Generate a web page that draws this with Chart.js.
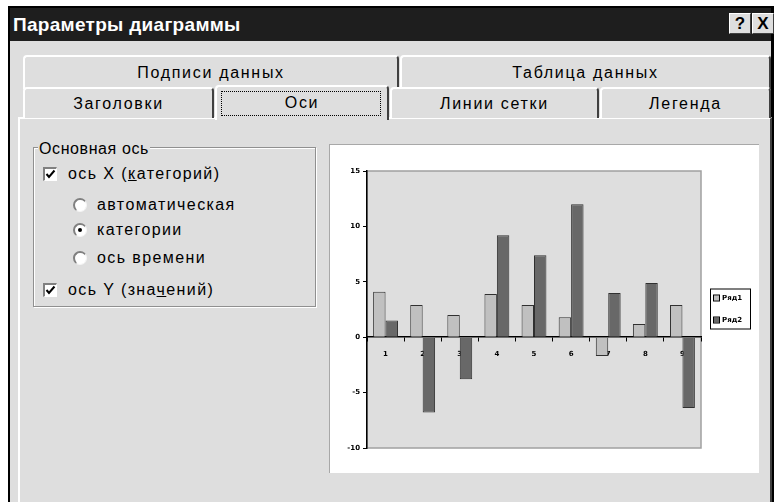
<!DOCTYPE html>
<html><head><meta charset="utf-8">
<script src="https://cdn.jsdelivr.net/npm/chart.js@4/dist/chart.umd.min.js"></script>
<style>
html,body{margin:0;padding:0;background:#fff;width:779px;height:502px;overflow:hidden;font-family:"Liberation Sans",Arial,sans-serif;}
.abs{position:absolute;box-sizing:border-box;}
#dlg{left:8px;top:6px;width:766px;height:500px;background:#dedede;border-left:2px solid #000;border-right:3px solid #000;border-top:2px solid #000;}
#title{left:10px;top:8px;width:761px;height:33px;background:#1e1e1e;color:#fff;font-weight:bold;font-size:19px;line-height:33px;padding-left:3px;letter-spacing:0.3px;}
.tbtn{top:13px;width:22px;height:21px;background:#dedede;border-top:1px solid #fff;border-left:1px solid #fff;border-right:1px solid #404040;border-bottom:1px solid #404040;color:#000;font-weight:bold;font-size:17px;line-height:19px;text-align:center;}
.tab{background:#dedede;border-top:2px solid #fff;border-left:2px solid #fff;border-right:2px solid #404040;border-radius:4px 4px 0 0;text-align:center;font-size:16px;color:#000;letter-spacing:1.7px;}
#panel{left:18px;top:117px;width:754px;height:400px;border-top:2px solid #fff;border-left:2px solid #fff;border-right:2px solid #404040;background:#dedede;}
.lbl{font-size:16px;color:#000;white-space:nowrap;line-height:18px;letter-spacing:1.4px;}
.cb{width:14px;height:14px;background:#fff;border-top:2px solid #808080;border-left:2px solid #808080;border-right:1px solid #fff;border-bottom:1px solid #fff;}
.rb{width:14px;height:14px;border-radius:50%;background:#fff;border-top:2px solid #808080;border-left:2px solid #808080;border-right:1px solid #f4f4f4;border-bottom:1px solid #f4f4f4;}
.rb.sel::after{content:"";position:absolute;left:3px;top:3px;width:4px;height:4px;border-radius:50%;background:#000;}
#chartbox{left:329px;top:144px;width:430px;height:329px;background:#fff;border-left:1px solid #a8a8a8;border-top:1px solid #a8a8a8;}
</style></head><body>
<div id="dlg" class="abs"></div>
<div id="title" class="abs">Параметры диаграммы</div>
<div class="abs tbtn" style="left:729px;">?</div>
<div class="abs tbtn" style="left:752px;">X</div>

<div class="abs tab" style="left:23px;top:55px;width:376px;height:34px;line-height:31px;">Подписи данных</div>
<div class="abs tab" style="left:400px;top:55px;width:371px;height:34px;line-height:31px;">Таблица данных</div>

<div id="panel" class="abs"></div>
<div class="abs tab" style="left:23px;top:87px;width:191px;height:31px;line-height:30px;">Заголовки</div>
<div class="abs tab" style="left:390px;top:87px;width:209px;height:31px;line-height:30px;">Линии сетки</div>
<div class="abs tab" style="left:600px;top:87px;width:171px;height:31px;line-height:30px;">Легенда</div>
<div class="abs tab" style="left:215px;top:85px;width:174px;height:35px;line-height:31px;border-bottom:none;z-index:2;">Оси
  <div class="abs" style="left:4px;top:4px;width:160px;height:25px;border:1px dotted #000;"></div>
</div>

<div class="abs" style="left:33px;top:147px;width:283px;height:160px;border:1px solid #909090;box-shadow:1px 1px 0 #fff, inset 1px 1px 0 #fff;"></div>
<div class="abs lbl" style="left:38px;top:140px;background:#dedede;padding:0 1px;letter-spacing:0.6px;">Основная ось</div>

<div class="abs cb" style="left:43px;top:167px;"><svg width="11" height="11" style="position:absolute;left:0;top:0"><polyline points="1.5,5 4,8 9.5,1.5" fill="none" stroke="#000" stroke-width="2"/></svg></div>
<div class="abs lbl" style="left:68px;top:165px;">ось X (<u>к</u>атегорий)</div>
<div class="abs rb" style="left:73px;top:198px;"></div>
<div class="abs lbl" style="left:97px;top:196px;">автоматическая</div>
<div class="abs rb sel" style="left:73px;top:223px;"></div>
<div class="abs lbl" style="left:97px;top:221px;">категории</div>
<div class="abs rb" style="left:73px;top:251px;"></div>
<div class="abs lbl" style="left:97px;top:249px;">ось времени</div>
<div class="abs cb" style="left:43px;top:283px;"><svg width="11" height="11" style="position:absolute;left:0;top:0"><polyline points="1.5,5 4,8 9.5,1.5" fill="none" stroke="#000" stroke-width="2"/></svg></div>
<div class="abs lbl" style="left:68px;top:281px;">ось Y (зна<u>ч</u>ений)</div>

<div id="chartbox" class="abs"><canvas id="c" width="429" height="328" style="position:absolute;left:0;top:0;width:429px;height:328px;"></canvas></div>

<script>
const categories = ["1","2","3","4","5","6","7","8","9"];
const seriesNames = ["Ряд1","Ряд2"];
const series1 = [4.1, 2.9, 2.0, 3.9, 2.9, 1.8, -1.7, 1.2, 2.9];
const series2 = [1.5, -6.8, -3.8, 9.2, 7.4, 12.0, 4.0, 4.9, -6.4];
const yTicks = [-10, -5, 0, 5, 10, 15];

const plotBg = {
  id:'plotBg',
  beforeDraw(chart){
    const {ctx, chartArea:a} = chart;
    ctx.save();
    ctx.fillStyle = '#dedede';
    ctx.fillRect(a.left, a.top, a.right-a.left, a.bottom-a.top);
    ctx.strokeStyle = '#a0a0a0';
    ctx.lineWidth = 1.5;
    ctx.strokeRect(a.left, a.top, a.right-a.left, a.bottom-a.top);
    ctx.restore();
  }
};
const boxLegend = {
  id:'boxLegend',
  afterDraw(chart){
    const {ctx, chartArea:a} = chart;
    const x = a.right + 9, w = 40, h = 40;
    const y = (a.top + a.bottom)/2 - h/2 - 1;
    ctx.save();
    ctx.fillStyle = '#fff';
    ctx.fillRect(x, y, w, h);
    ctx.strokeStyle = '#000';
    ctx.lineWidth = 1;
    ctx.strokeRect(x+0.5, y+0.5, w, h);
    chart.data.datasets.forEach((ds, i) => {
      const ey = y + 9 + i*22;
      ctx.fillStyle = ds.backgroundColor;
      ctx.fillRect(x+4, ey-2, 5, 5);
      ctx.strokeStyle = '#000';
      ctx.strokeRect(x+3.5, ey-2.5, 6, 6);
      ctx.fillStyle = '#000';
      ctx.font = 'bold 7px "DejaVu Sans", sans-serif';
      ctx.textBaseline = 'middle';
      ctx.fillText(ds.label, x+12, ey+1);
    });
    ctx.restore();
  }
};

new Chart(document.getElementById('c'), {
  type: 'bar',
  data: {
    labels: categories,
    datasets: [
      {label: seriesNames[0], data: series1, backgroundColor:'#c0c0c0', borderColor:'#303030', borderWidth:1},
      {label: seriesNames[1], data: series2, backgroundColor:'#686868', borderColor:'#303030', borderWidth:1}
    ]
  },
  options: {
    responsive:false, animation:false,
    layout:{padding:{left:0, top:26, right:58, bottom:25}},
    categoryPercentage:0.67, barPercentage:1.0,
    plugins:{legend:{display:false}, tooltip:{enabled:false}},
    scales:{
      x:{
        position:{y:0},
        grid:{drawOnChartArea:false, drawTicks:true, tickLength:4, color:'#000', offset:true},
        border:{color:'#000', width:1.5},
        ticks:{color:'#000', padding:9, font:{size:7, weight:'bold', family:'"DejaVu Sans", sans-serif'}, maxRotation:0}
      },
      y:{
        min:-10, max:15,
        afterBuildTicks(s){ s.ticks = yTicks.map(v=>({value:v})); },
        afterFit(s){ s.width = 37; },
        grid:{drawOnChartArea:false, drawTicks:true, tickLength:4, color:'#000'},
        border:{color:'#000', width:1.5},
        ticks:{color:'#000', padding:3, font:{size:7, weight:'bold', family:'"DejaVu Sans", sans-serif'}}
      }
    }
  },
  plugins:[plotBg, boxLegend]
});
</script>
</body></html>
